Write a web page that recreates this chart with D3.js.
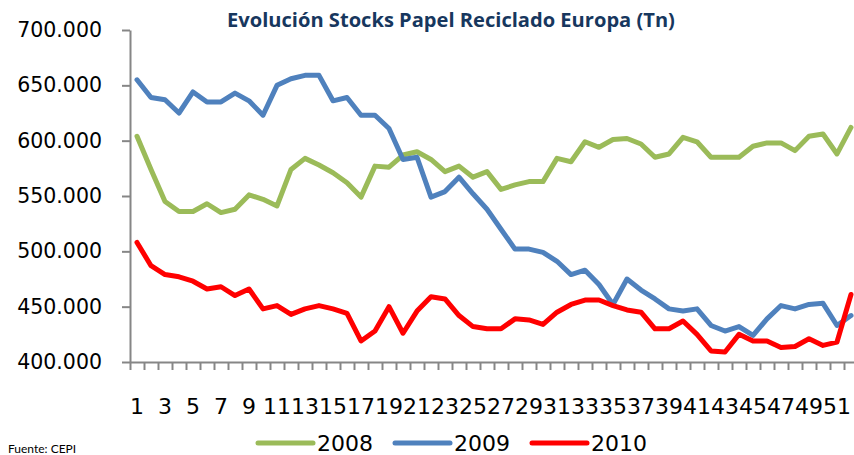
<!DOCTYPE html>
<html><head><meta charset="utf-8">
<script src="https://cdn.jsdelivr.net/npm/d3@7/dist/d3.min.js"></script>
<style>body{margin:0;background:#fff;overflow:hidden} svg{display:block}</style>
</head><body><svg id="c" width="854" height="455"></svg>
<script>
const categories = ["1","2","3","4","5","6","7","8","9","10","11","12","13","14","15","16","17","18","19","20","21","22","23","24","25","26","27","28","29","30","31","32","33","34","35","36","37","38","39","40","41","42","43","44","45","46","47","48","49","50","51","52"];
const labelCategories = ["1","3","5","7","9","11","13","15","17","19","21","23","25","27","29","31","33","35","37","39","41","43","45","47","49","51"];
const series2008 = [604000,574000,545000,536000,536000,543000,535000,538000,551000,547000,541000,574000,584000,578000,571000,562000,549000,577000,576000,587000,590000,583000,572000,577000,567000,572000,556000,560000,563000,563000,584000,581000,599000,594000,601000,602000,597000,585000,588000,603000,599000,585000,585000,585000,595000,598000,598000,591000,604000,606000,588000,612000];
const series2009 = [655000,639000,637000,625000,644000,635000,635000,643000,636000,623000,650000,656000,659000,659000,636000,639000,623000,623000,611000,583000,585000,549000,554000,567000,552000,538000,520000,502000,502000,499000,491000,479000,483000,470000,452000,475000,465000,457000,448000,446000,448000,433000,428000,432000,424000,439000,451000,448000,452000,453000,433000,442000];
const series2010 = [508000,487000,479000,477000,473000,466000,468000,460000,466000,448000,451000,443000,448000,451000,448000,444000,419000,428000,450000,426000,446000,459000,457000,442000,432000,430000,430000,439000,438000,434000,445000,452000,456000,456000,451000,447000,445000,430000,430000,437000,425000,410000,409000,425000,419000,419000,413000,414000,421000,415000,418000,461000];
const seriesNames = ["2008","2009","2010"];
const seriesColors = ["#9BBB59","#4F81BD","#FF0000"];
const yTicks = [400000,450000,500000,550000,600000,650000,700000];
const titleText = "Evolución Stocks Papel Reciclado Europa (Tn)";
const sourceText = "Fuente: CEPI";

const svg = d3.select("#c");
const L = 130, T = 30, B = 362, STEP = 14;
const R = L + STEP * categories.length;
const x = d3.scaleBand().domain(categories).range([L, R]);
const xEdge = d3.scaleLinear().domain([0, categories.length]).range([L, R]);
const y = d3.scaleLinear().domain([400000, 700000]).range([B, T]);
const loc = d3.formatLocale({decimal: ",", thousands: ".", grouping: [3], currency: ["", "€"]});
const fmt = loc.format(",");
const AXC = "#868686";
const NUMFONT = "DejaVu Sans";

// title
const title = svg.append("text").attr("x", 451).attr("y", 27).attr("text-anchor", "middle")
  .attr("font-family", "'Open Sans', Lato, sans-serif").attr("font-weight", "bold")
  .attr("font-size", 18).attr("fill", "#17375E").text(titleText);
const tw = title.node().getComputedTextLength();
title.attr("font-size", 18 * 448 / tw);

// y axis
const gy = svg.append("g").attr("transform", `translate(${L},0)`)
  .call(d3.axisLeft(y).tickValues(yTicks).tickFormat(fmt).tickSize(8).tickSizeOuter(0).tickPadding(20));
gy.select(".domain").attr("stroke", AXC).attr("stroke-width", 2);
gy.selectAll(".tick line").attr("stroke", AXC).attr("stroke-width", 2);
gy.selectAll(".tick text").attr("font-family", NUMFONT).attr("font-size", 20.5).attr("fill", "#000");

// x axis ticks
const gx = svg.append("g").attr("transform", `translate(0,${B})`)
  .call(d3.axisBottom(xEdge).tickValues(d3.range(0, categories.length + 1)).tickFormat("").tickSize(8).tickSizeOuter(0));
gx.select(".domain").attr("stroke", AXC).attr("stroke-width", 2);
gx.selectAll(".tick line").attr("stroke", AXC).attr("stroke-width", 2);

// x labels
const gxl = svg.append("g").attr("transform", `translate(0,${B})`)
  .call(d3.axisBottom(x).tickValues(labelCategories).tickSize(0).tickPadding(36));
gxl.select(".domain").remove();
gxl.selectAll(".tick text").attr("font-family", NUMFONT).attr("font-size", 22).attr("fill", "#000");

// lines
const line = d3.line().x((d, i) => x(categories[i]) + x.bandwidth() / 2).y(d => y(d));
[series2008, series2009, series2010].forEach((s, k) => {
  svg.append("path").datum(s).attr("d", line).attr("fill", "none")
    .attr("stroke", seriesColors[k]).attr("stroke-width", 5)
    .attr("stroke-linejoin", "round").attr("stroke-linecap", "round");
});

// legend
const LX = 258, LSP = 137, LY = 443;
seriesNames.forEach((n, k) => {
  const g = svg.append("g").attr("transform", `translate(${LX + k * LSP},${LY})`);
  g.append("line").attr("x1", 0).attr("x2", 55).attr("y1", 0).attr("y2", 0)
    .attr("stroke", seriesColors[k]).attr("stroke-width", 5).attr("stroke-linecap", "round");
  g.append("text").attr("x", 59).attr("y", 8).attr("font-family", NUMFONT).attr("font-size", 22)
    .attr("fill", "#000").text(n);
});

// source
svg.append("text").attr("x", 8).attr("y", 453).attr("font-family", "Lato, sans-serif")
  .attr("font-size", 12).attr("fill", "#000").text(sourceText);
</script></body></html>
